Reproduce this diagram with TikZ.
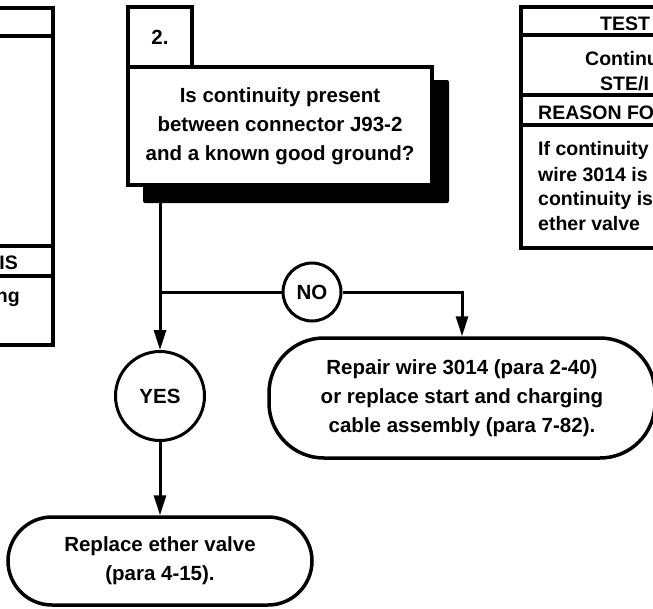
\documentclass[tikz,border=0pt]{standalone}
\usepackage{fontspec}
\setmainfont{Liberation Sans}
\usetikzlibrary{arrows.meta}
\begin{document}
\begin{tikzpicture}[x=1pt,y=-1pt,
  box/.style={draw, line width=3.5pt, fill=white},
  rule/.style={line width=3.5pt},
  lbl/.style={font=\fontsize{20.5}{29}\selectfont\bfseries, align=center, inner sep=0pt},
  tab/.style={font=\fontsize{19.5}{25}\selectfont\bfseries, inner sep=0pt},
  ring/.style={circle, draw, line width=3pt, fill=white, lbl},
  conn/.style={line width=3pt},
  arr/.style={conn, -{Triangle[width=12pt,length=20pt]}}]
\useasboundingbox (0,0) rectangle (653,608);
\clip (0,0) rectangle (653,608);
% left table (previous step)
\draw[rule] (-20,8) rectangle (53,345);
\draw[rule] (-20,36) -- (53,36);
\draw[rule] (-20,246) -- (53,246);
\draw[rule] (-20,276) -- (53,276);
\node[tab, anchor=base east] (lt1) at (18,269) {IS};
\node[tab, anchor=base east] (lt2) at (20,302) {ng};
% right table
\draw[rule] (521,7) rectangle (690,248);
\draw[rule] (521,35) -- (690,35);
\draw[rule] (521,95) -- (690,95);
\draw[rule] (521,125) -- (690,125);
\node[tab, anchor=base west] (rt1) at (600,30) {TEST};
\node[tab, anchor=base west] (rt2) at (585,65) {Continu};
\node[tab, anchor=base west] (rt3) at (600,90) {STE/I};
\node[tab, anchor=base west] (rt4) at (538,119) {REASON FO};
\node[tab, anchor=base west] (rt5) at (538,155) {If continuity};
\node[tab, anchor=base west] (rt6) at (538,181) {wire 3014 is};
\node[tab, anchor=base west] (rt7) at (538,205) {continuity is};
\node[tab, anchor=base west] (rt8) at (538,230) {ether valve};
% step box
\node[box, lbl, minimum width=64pt, minimum height=60pt] (num) at (160,37) {\raisebox{-2.5pt}{2.}};
\fill[rounded corners=2pt] (143,80) rectangle (449,203);
\node[box, lbl, minimum width=304pt, minimum height=118pt] (q) at (280,126)
  {Is continuity present\\between connector J93-2\\and a known good ground?};
\coordinate (qs) at (160,203);
\coordinate (br) at (160,292);
\node[ring, minimum size=89pt] (yes) at (160,396) {YES};
\node[ring, minimum size=58pt] (no) at (312,292) {NO};
\node[box, lbl, rounded corners=55pt, minimum width=386pt, minimum height=120pt] (rep) at (462,398)
  {Repair wire 3014 (para 2-40)\\or replace start and charging\\cable assembly (para 7-82).};
\node[box, lbl, rounded corners=44pt, minimum width=304pt, minimum height=88pt] (fin) at (160,561)
  {Replace ether valve\\(para 4-15).};
% connectors
\draw[arr] (qs) -- (yes);
\draw[conn] (br) -- (no);
\draw[arr] (no) -| (rep.north);
\draw[arr] (yes) -- (fin);
\end{tikzpicture}
\end{document}
